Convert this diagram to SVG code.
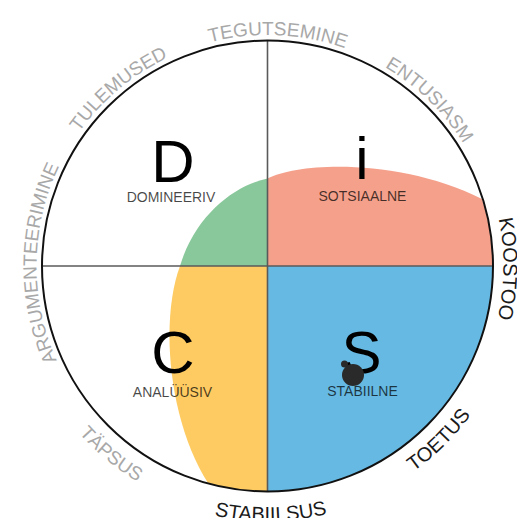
<svg xmlns="http://www.w3.org/2000/svg" width="517" height="518" viewBox="0 0 517 518">
<style>
.big{font-family:"Liberation Sans",Arial,sans-serif;font-size:60px;fill:#000;text-anchor:middle}
.lbl{font-family:"Liberation Sans",Arial,sans-serif;font-size:14px;fill:#000;fill-opacity:0.72;text-anchor:middle}
.ring{font-family:"Liberation Sans",Arial,sans-serif;font-size:19px;fill:#a8a8a8;text-anchor:middle}
.ringb{font-family:"Liberation Sans",Arial,sans-serif;font-size:20px;fill:#1a1a1a;text-anchor:middle}
.axis{stroke:#5a5a5a;stroke-width:1.6;fill:none}
</style>
<defs>
<path id="cw" d="M267.5,497 A231,231 0 1 1 267.5,35 A231,231 0 1 1 267.5,497"/>
<path id="cw2" d="M267.5,502 A236,236 0 1 1 267.5,30 A236,236 0 1 1 267.5,502"/>
<path id="ccw" d="M267.5,14 A252,252 0 1 0 267.5,518 A252,252 0 1 0 267.5,14"/>
<path id="ccw2" d="M267.5,11 A255,255 0 1 0 267.5,521 A255,255 0 1 0 267.5,11"/>
</defs>
<rect width="517" height="518" fill="#fff"/>
<g id="node-S">
<path d="M267.5,266 L493,266 A225.5,225.5 0 0 1 267.5,491.5 Z" fill="#66b9e2"/>
</g>
<g id="node-i">
<path d="M267.5,266 L267.5,178.5 C300,162 400,158 482,199 A225.5,225.5 0 0 1 493,266 Z" fill="#f5a08b"/>
</g>
<g id="node-D">
<path d="M267.5,266 L267.5,178.5 C235,185 195,215 180,266 Z" fill="#88c89b"/>
</g>
<g id="node-C">
<path d="M267.5,266 L180,266 C160,320 168,420 208,483 A225.5,225.5 0 0 0 267.5,491.5 Z" fill="#fdcb62"/>
</g>
<g id="axes">
<line class="axis" x1="267.5" y1="40.5" x2="267.5" y2="491.5"/>
<line class="axis" x1="42" y1="266" x2="493" y2="266"/>
</g>
<circle cx="267.5" cy="266" r="225.5" fill="none" stroke="#111" stroke-width="2"/>
<g id="labels-D">
<text class="big" x="173" y="182">D</text>
<text class="lbl" x="171" y="201.5">DOMINEERIV</text>
</g>
<g id="labels-i">
<text class="big" x="362" y="179">i</text>
<text class="lbl" x="362.5" y="200.5">SOTSIAALNE</text>
</g>
<g id="labels-C">
<text class="big" x="173" y="373">C</text>
<text class="lbl" x="172.5" y="396.5">ANALÜÜSIV</text>
</g>
<g id="labels-S">
<text class="big" x="361.5" y="373">S</text>
<text class="lbl" x="362.5" y="396">STABIILNE</text>
<circle cx="353" cy="375" r="11" fill="#2a2a2a"/>
<circle cx="344.5" cy="364" r="3.5" fill="#2a2a2a"/>
</g>
<g id="ring-labels">
<text class="ring"><textPath href="#cw" startOffset="365.7">ARGUMENTEERIMINE</textPath></text>
<text class="ring"><textPath href="#cw" startOffset="564">TULEMUSED</textPath></text>
<text class="ring"><textPath href="#cw" startOffset="735.8">TEGUTSEMINE</textPath></text>
<text class="ring"><textPath href="#cw" startOffset="903.9">ENTUSIASM</textPath></text>
<text class="ringb"><textPath href="#cw2" startOffset="1114.6">KOOSTOO</textPath></text>
<text class="ring"><textPath href="#ccw" startOffset="616.6">TÄPSUS</textPath></text>
<text class="ringb"><textPath href="#ccw2" startOffset="804.2">STABIILSUS</textPath></text>
<text class="ringb"><textPath href="#ccw" startOffset="987.4">TOETUS</textPath></text>
</g>
</svg>
